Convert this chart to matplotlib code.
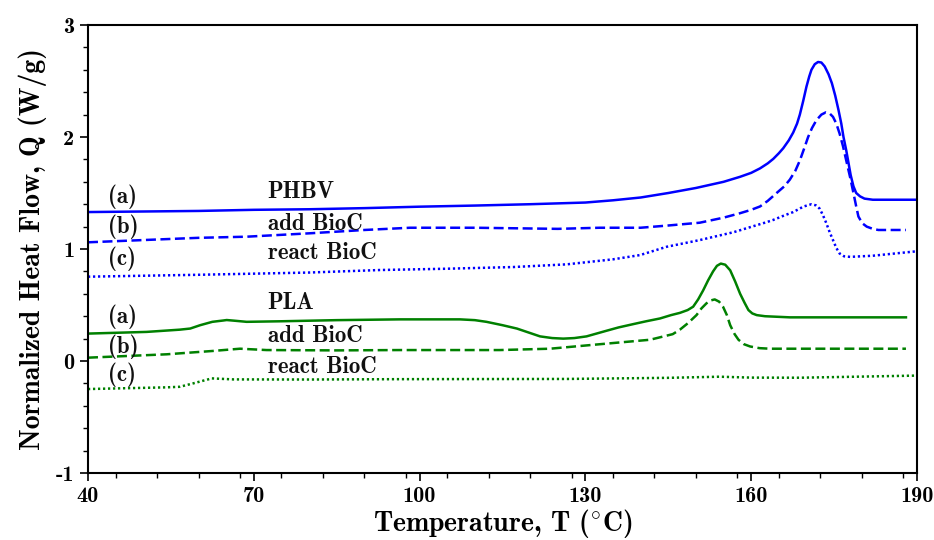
import os
import matplotlib
matplotlib.use("Agg")
import matplotlib.pyplot as plt
from matplotlib import font_manager
from matplotlib.ticker import MultipleLocator

# Computer Modern bold ships with matplotlib
font_manager.fontManager.addfont(
    os.path.join(matplotlib.get_data_path(), "fonts", "ttf", "cmb10.ttf"))
plt.rcParams["font.family"] = ["cmb10", "DejaVu Serif"]
plt.rcParams["mathtext.fontset"] = "cm"
plt.rcParams["axes.unicode_minus"] = False

BLUE = "#0000ff"
GREEN = "#008000"

# --- PHBV curves ------------------------------------------------------------
phbv_a_T = [40, 50, 60, 70, 80, 90, 100, 110, 120, 130, 135, 140, 145, 150,
            155, 157, 158, 160, 161.6, 163, 164, 165, 165.8, 166.8, 167.6,
            168.3, 168.8, 169.4, 170, 170.5, 170.9, 171.5, 172.1, 172.7, 173.3,
            174, 174.6, 175.2, 175.8, 176.3, 176.7, 177.2, 177.6, 178, 178.5,
            179, 179.7, 180.5, 182, 185, 190]
phbv_a_Q = [1.33, 1.335, 1.34, 1.35, 1.355, 1.365, 1.378, 1.388, 1.40, 1.415,
            1.435, 1.46, 1.50, 1.545, 1.60, 1.63, 1.645, 1.68, 1.72, 1.765,
            1.805, 1.855, 1.90, 1.97, 2.04, 2.12, 2.20, 2.32, 2.45, 2.54, 2.60,
            2.65, 2.67, 2.665, 2.63, 2.56, 2.48, 2.37, 2.24, 2.12, 2.0, 1.88,
            1.77, 1.66, 1.56, 1.50, 1.47, 1.45, 1.44, 1.44, 1.44]

phbv_b_T = [40, 50, 60, 68.7, 80, 90, 98.3, 110, 125, 132.6, 140, 145, 150.7,
            155, 158, 160, 161.6, 163, 164.6, 166, 167, 168, 168.8, 169.6,
            170.3, 171, 171.8, 172.7, 173.5, 174.2, 174.8, 175.4, 176, 176.6,
            177.2, 177.9, 178.5, 179, 179.4, 180.1, 180.9, 182, 183, 188]
phbv_b_Q = [1.06, 1.08, 1.10, 1.11, 1.14, 1.17, 1.19, 1.19, 1.18, 1.19, 1.19,
            1.21, 1.235, 1.28, 1.32, 1.35, 1.38, 1.43, 1.50, 1.56, 1.62, 1.70,
            1.79, 1.90, 2.0, 2.08, 2.15, 2.20, 2.22, 2.21, 2.18, 2.12, 2.03,
            1.92, 1.79, 1.64, 1.50, 1.38, 1.29, 1.23, 1.20, 1.18, 1.17, 1.17]

phbv_c_T = [40, 60, 80, 92.8, 104.9, 116.9, 126.6, 135, 139.9, 144.7, 150.7,
            156.8, 162.8, 164, 166, 167.6, 169.5, 170.9, 171.7, 172.4, 173,
            173.6, 174.2, 174.8, 175.4, 176, 176.8, 177.9, 182, 185, 190]
phbv_c_Q = [0.753, 0.77, 0.79, 0.8125, 0.824, 0.839, 0.863, 0.908, 0.946, 1.02,
            1.08, 1.15, 1.24, 1.26, 1.30, 1.33, 1.38, 1.40, 1.39, 1.36, 1.30,
            1.23, 1.15, 1.08, 1.01, 0.96, 0.935, 0.93, 0.94, 0.955, 0.98]

# --- PLA curves -------------------------------------------------------------
pla_a_T = [40, 50.6, 56.6, 58.5, 60.3, 62.5, 64.5, 65.1, 66.5, 68.7, 75, 85,
           96.4, 107.3, 110, 112.1, 115, 117.6, 120, 121.8, 124, 126, 128,
           130.2, 132, 133.8, 136, 138.7, 141, 143.5, 145.5, 147.1, 148.5,
           149.5, 150.4, 151.3, 152.2, 153.1, 153.8, 154.5, 155.3, 156.2, 157.1,
           158, 158.8, 159.5, 160.2, 161, 162.5, 167, 188]
pla_a_Q = [0.245, 0.26, 0.28, 0.29, 0.32, 0.35, 0.362, 0.366, 0.36, 0.35,
           0.355, 0.365, 0.372, 0.372, 0.365, 0.35, 0.32, 0.29, 0.25, 0.22,
           0.205, 0.20, 0.205, 0.22, 0.245, 0.27, 0.30, 0.33, 0.355, 0.38,
           0.41, 0.43, 0.455, 0.485, 0.55, 0.63, 0.72, 0.80, 0.85, 0.87, 0.86,
           0.81, 0.71, 0.60, 0.52, 0.455, 0.425, 0.41, 0.40, 0.39, 0.39]

pla_b_T = [40, 54.2, 62.6, 67.5, 72.3, 85, 96.4, 114.5, 123.6, 132.6, 141.7,
           145.8, 147.1, 148.6, 150.1, 151, 151.9, 152.6, 153.4, 154.2, 154.9,
           155.6, 156.2, 157, 157.7, 158.7, 159.8, 161.5, 163.4, 188]
pla_b_Q = [0.03, 0.06, 0.09, 0.11, 0.098, 0.095, 0.098, 0.098, 0.11, 0.15,
           0.19, 0.24, 0.28, 0.34, 0.41, 0.47, 0.515, 0.54, 0.55, 0.53, 0.485,
           0.41, 0.32, 0.24, 0.19, 0.15, 0.13, 0.115, 0.11, 0.11]

pla_c_T = [40, 54.2, 56.6, 59, 62.4, 66.3, 80, 96, 126.6, 145, 154.3, 160,
           168.8, 190]
pla_c_Q = [-0.25, -0.235, -0.23, -0.2, -0.155, -0.164, -0.165, -0.162, -0.16,
           -0.15, -0.14, -0.148, -0.149, -0.13]

# --- annotations: (x, y, text) ---------------------------------------------
tag_labels = [(43.7, 1.408, "(a)"), (43.7, 1.14, "(b)"), (43.7, 0.857, "(c)"),
              (43.7, 0.336, "(a)"), (43.7, 0.074, "(b)"), (43.7, -0.176, "(c)")]
name_labels = [(72.5, 1.455, "PHBV"), (72.5, 1.17, "add BioC"),
               (72.5, 0.908, "react BioC"), (72.5, 0.462, "PLA"),
               (72.5, 0.172, "add BioC"), (72.5, -0.11, "react BioC")]

x_ticks = [40, 70, 100, 130, 160, 190]
y_ticks = [-1, 0, 1, 2, 3]

fig = plt.figure(figsize=(9.34, 5.4), dpi=100)
ax = fig.add_axes([0.0942, 0.124, 0.8876, 0.8297])

lw = 1.8
dash = (0, (4, 1.8))
dot = (0, (0.9, 1.1))
ax.plot(phbv_a_T, phbv_a_Q, color=BLUE, lw=lw, ls="-")
ax.plot(phbv_b_T, phbv_b_Q, color=BLUE, lw=lw, ls=dash)
ax.plot(phbv_c_T, phbv_c_Q, color=BLUE, lw=lw, ls=dot)
ax.plot(pla_a_T, pla_a_Q, color=GREEN, lw=lw, ls="-")
ax.plot(pla_b_T, pla_b_Q, color=GREEN, lw=lw, ls=dash)
ax.plot(pla_c_T, pla_c_Q, color=GREEN, lw=lw, ls=dot)

for x, y, s in tag_labels + name_labels:
    ax.text(x, y, s, fontsize=16.5, ha="left", va="baseline", color="#111111")

ax.set_xlim(40, 190)
ax.set_ylim(-1, 3)
ax.set_xticks(x_ticks)
ax.set_yticks(y_ticks)
ax.xaxis.set_minor_locator(MultipleLocator(7.5))
ax.yaxis.set_minor_locator(MultipleLocator(0.2))
ax.tick_params(which="major", direction="out", length=6, width=1.2,
               labelsize=16, pad=4)
ax.tick_params(which="minor", direction="out", length=3.5, width=1.0)
for sp in ax.spines.values():
    sp.set_linewidth(1.5)

ax.set_xlabel(r"Temperature, T ($^{\circ}$C)", fontsize=20, labelpad=1)
ax.set_ylabel("Normalized Heat Flow, Q (W/g)", fontsize=20, labelpad=6)

fig.savefig("out.png", dpi=100)
